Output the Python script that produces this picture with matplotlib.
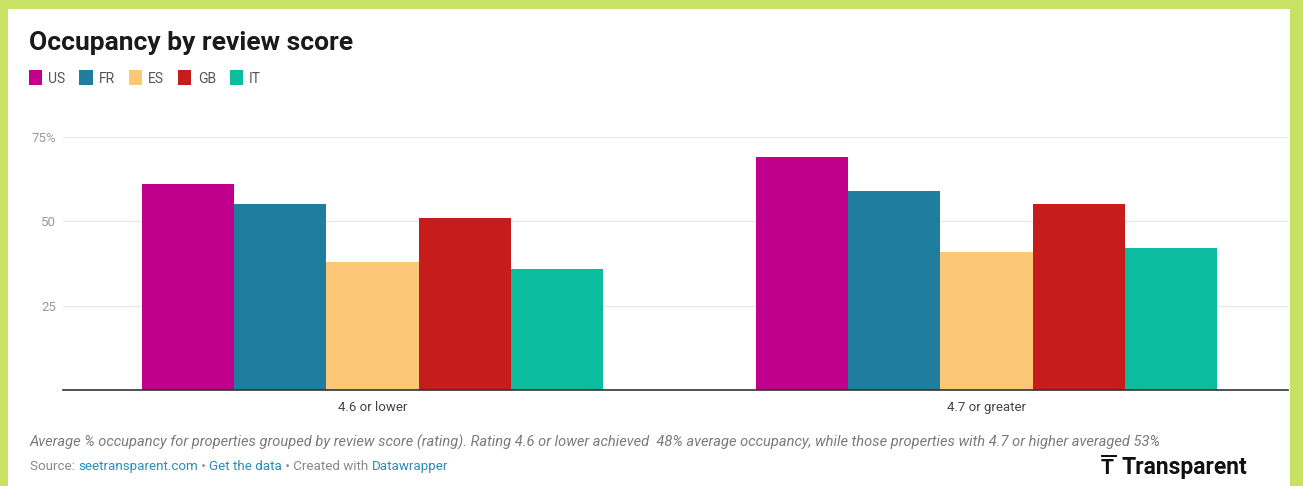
import matplotlib
matplotlib.use("Agg")
import matplotlib.pyplot as plt
from matplotlib.patches import Patch, Rectangle
import numpy as np

plt.rcParams["font.family"] = ["Roboto", "DejaVu Sans"]

# data
groups = ["4.6 or lower", "4.7 or greater"]
countries = ["US", "FR", "ES", "GB", "IT"]
us = [61, 69]
fr = [55, 59]
es = [38, 41]
gb = [51, 55]
it = [36, 42]
y_ticks = [25, 50, 75]
y_tick_labels = ["25", "50", "75%"]

colors = ["#c0008c", "#1f7ea0", "#fcc877", "#c71c1c", "#0bbc9f"]
series = [us, fr, es, gb, it]

W, H = 1303, 486
fig = plt.figure(figsize=(W / 100, H / 100), dpi=100)
fig.patch.set_facecolor("#c9e264")

# white panel
fig.patches.append(Rectangle((8 / W, 0), (1290 - 8) / W, 1 - 9 / H,
                             transform=fig.transFigure, facecolor="white",
                             edgecolor="none", zorder=-5))


def px(x, y):
    return x / W, 1 - y / H


ax = fig.add_axes([63 / W, (H - 390) / H, (1288 - 63) / W, (390 - 137) / H])
ax.set_facecolor("none")
ax.set_zorder(2)

bar_w = 0.15
x = np.arange(len(groups))
for i, (vals, c) in enumerate(zip(series, colors)):
    ax.bar(x + (i - 2) * bar_w, vals, width=bar_w, color=c, zorder=2, linewidth=0)

ax.set_xlim(-0.504, 1.491)
ax.set_ylim(0, 75)
ax.set_yticks(y_ticks)
ax.set_yticklabels(y_tick_labels)
ax.set_xticks(x)
ax.set_xticklabels(groups)
ax.tick_params(axis="y", length=0, pad=5, labelsize=9.5, labelcolor="#9a9a9a")
ax.tick_params(axis="x", length=0, pad=8, labelsize=9.5, labelcolor="#444444")
for s in ["top", "right", "left"]:
    ax.spines[s].set_visible(False)
ax.spines["bottom"].set_color("#333333")
ax.spines["bottom"].set_linewidth(1.2)
ax.spines["bottom"].set_zorder(3)
ax.grid(axis="y", color="#e8e8e8", linewidth=1, zorder=0)
ax.set_axisbelow(True)

# title
fig.text(*px(29, 50), "Occupancy by review score", fontsize=19,
         fontweight="bold", color="#1a1a1a", va="baseline", ha="left")

# legend
handles = [Patch(facecolor=c, edgecolor="none") for c in colors]
fig.legend(handles, countries, loc="center left", bbox_to_anchor=px(29, 78),
           ncol=5, frameon=False, fontsize=10, handlelength=0.95,
           handleheight=1.25, handletextpad=0.45, columnspacing=1.0,
           labelcolor="#555555", borderpad=0, borderaxespad=0)

# notes
fig.text(*px(30, 447), "Average % occupancy for properties grouped by review score (rating). "
         "Rating 4.6 or lower achieved  48% average occupancy, while those properties "
         "with 4.7 or higher averaged 53%", fontsize=10.5, style="italic",
         color="#7a7a7a", va="baseline", ha="left")

fig.canvas.draw()
renderer = fig.canvas.get_renderer()
parts = [("Source: ", "#888888"), ("seetransparent.com", "#2a8cb4"),
         (" \u2022 ", "#888888"), ("Get the data", "#2a8cb4"),
         (" \u2022 Created with ", "#888888"), ("Datawrapper", "#2a8cb4")]
xpos = 30
for txt, col in parts:
    t = fig.text(*px(xpos, 470), txt, fontsize=9.6, color=col,
                 va="baseline", ha="left")
    bb = t.get_window_extent(renderer)
    xpos += bb.width

# logo
fig.text(*px(1122, 474), "Transparent", fontsize=16.5, fontweight="bold",
         color="#111111", va="baseline", ha="left")
fig.text(*px(1101, 474), "T", fontsize=15, fontweight="bold",
         color="#111111", va="baseline", ha="left")
fig.patches.append(Rectangle(px(1101, 457), 16 / W, 2.5 / H, transform=fig.transFigure,
                             facecolor="#111111", edgecolor="none"))

fig.savefig("out.png", dpi=100, facecolor=fig.get_facecolor())
